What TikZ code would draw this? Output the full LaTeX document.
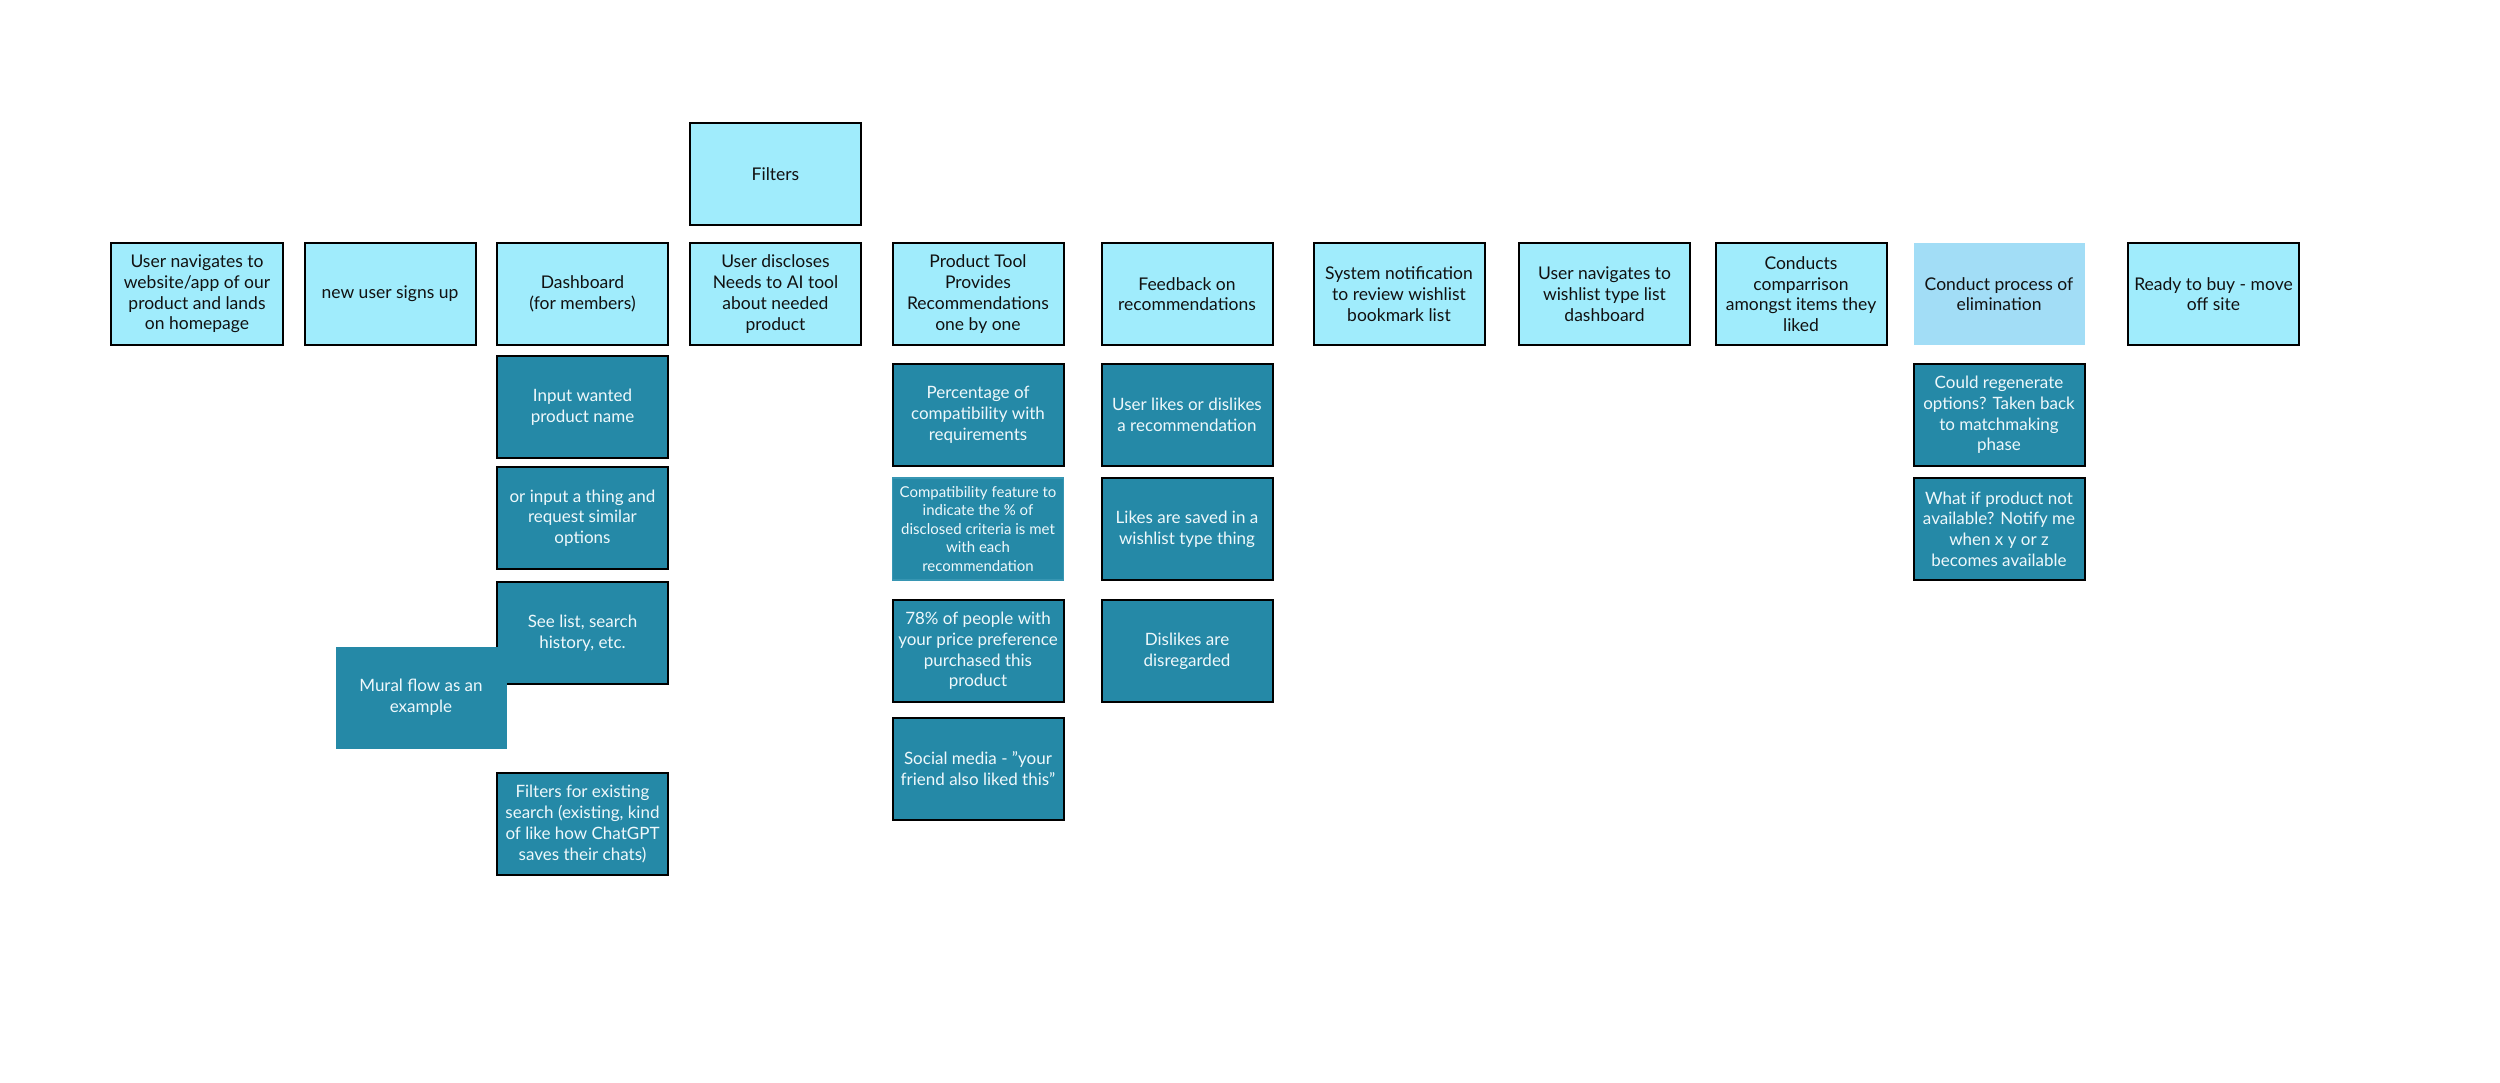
\documentclass[tikz,border=0pt]{standalone}
\usepackage{fontspec}
\setmainfont{Lato}
\definecolor{lightc}{HTML}{A0ECFC}
\definecolor{elimc}{HTML}{A2DDF6}
\definecolor{tealc}{HTML}{2589A7}
\definecolor{tealb}{HTML}{3796B3}
\definecolor{txtw}{HTML}{EEF8FB}
\definecolor{txtd}{HTML}{111111}
\tikzset{
  base/.style={minimum width=68.4pt, minimum height=40.8pt, align=center, inner sep=0pt,
    font=\fontsize{7.0}{8.3}\selectfont},
  lightbox/.style={base, draw=black, line width=0.8pt, fill=lightc, text=txtd},
  elimbox/.style={base, fill=elimc, text=txtd},
  darkbox/.style={base, draw=black, line width=0.8pt, fill=tealc, text=txtw,
    font=\fontsize{6.8}{8.3}\selectfont},
  plainteal/.style={base, fill=tealc, text=txtw, font=\fontsize{6.8}{8.3}\selectfont},
  compatbox/.style={base, draw=tealb, line width=0.6pt, fill=tealc, text=txtw,
    font=\fontsize{6.0}{7.4}\selectfont},
}
\begin{document}
\begin{tikzpicture}[x=0.4pt,y=-0.4pt]
\fill[white] (0,0) rectangle (2500,1082);
\useasboundingbox (0,0) rectangle (2500,1082);
% top row
\node[lightbox] (a1) at (197,294) {User navigates to\\website/app of our\\product and lands\\on homepage};
\node[lightbox] (a2) at (390,294) {new user signs up};
\node[lightbox] (a3) at (582.5,294) {Dashboard\\(for members)};
\node[lightbox] (a4) at (775.5,294) {User discloses\\Needs to AI tool\\about needed\\product};
\node[lightbox] (filters) at (775.5,174) {Filters};
\node[lightbox] (a5) at (978,294) {Product Tool\\Provides\\Recommendations\\one by one};
\node[lightbox] (a6) at (1187,294) {Feedback on\\recommendations};
\node[lightbox] (a7) at (1399,294) {System notification\\to review wishlist\\bookmark list};
\node[lightbox] (a8) at (1604.5,294) {User navigates to\\wishlist type list\\dashboard};
\node[lightbox] (a9) at (1801,294) {Conducts\\comparrison\\amongst items they\\liked};
\node[elimbox] (a10) at (1999,294) {Conduct process of\\elimination};
\node[lightbox] (a11) at (2213.5,294) {Ready to buy - move\\off site};
% dashboard column
\node[darkbox] (d1) at (582.5,407) {Input wanted\\product name};
\node[darkbox] (d2) at (582.5,518) {or input a thing and\\request similar\\options};
\node[darkbox] (d3) at (582.5,633) {See list, search\\history, etc.};
\node[plainteal] (mural) at (421,697.5) {Mural flow as an\\example};
\node[darkbox] (d4) at (582.5,824) {Filters for existing\\search (existing, kind\\of like how ChatGPT\\saves their chats)};
% recommendations column
\node[darkbox] (r1) at (978,415) {Percentage of\\compatibility with\\requirements};
\node[compatbox] (r2) at (978,529) {Compatibility feature to\\indicate the \% of\\disclosed criteria is met\\with each\\recommendation};
\node[darkbox] (r3) at (978,651) {78\% of people with\\your price preference\\purchased this\\product};
\node[darkbox] (r4) at (978,768.5) {Social media - "your\\friend also liked this"};
% feedback column
\node[darkbox] (f1) at (1187,415) {User likes or dislikes\\a recommendation};
\node[darkbox] (f2) at (1187,529) {Likes are saved in a\\wishlist type thing};
\node[darkbox] (f3) at (1187,651) {Dislikes are\\disregarded};
% elimination column
\node[darkbox] (e1) at (1999,415) {Could regenerate\\options? Taken back\\to matchmaking\\phase};
\node[darkbox] (e2) at (1999,529) {What if product not\\available? Notify me\\when x y or z\\becomes available};
\end{tikzpicture}
\end{document}
